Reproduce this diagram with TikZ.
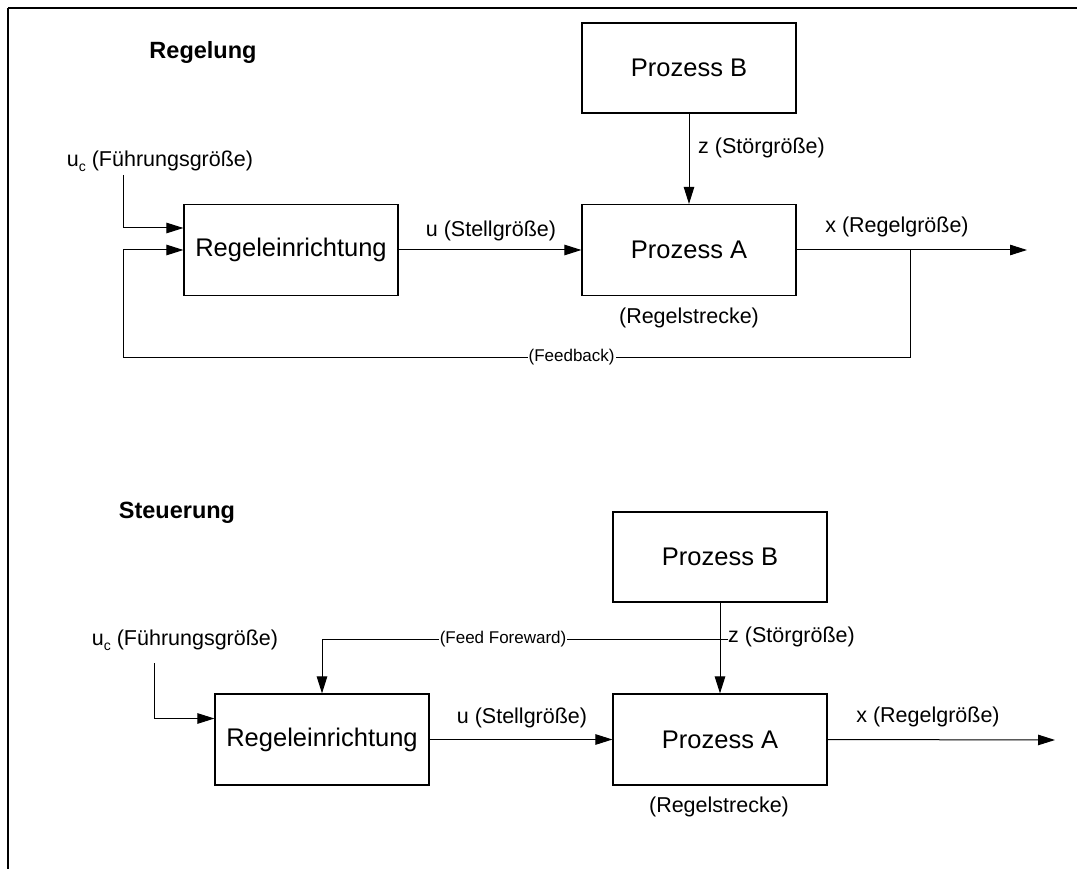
\documentclass[tikz,border=0pt]{standalone}
\usepackage{fontspec}
\setmainfont{Liberation Sans}
\usetikzlibrary{arrows.meta}

\newcommand{\idx}[1]{\raisebox{-5pt}{\fontsize{14}{14}\selectfont #1}}

\tikzset{
  block/.style={draw, line width=1.2pt, minimum width=214pt, minimum height=91pt,
    inner sep=0pt, font={\fontsize{25.5}{30}\selectfont}},
  sig/.style={font={\fontsize{21.5}{25}\selectfont}, inner sep=0pt},
  tiny/.style={font={\fontsize{17}{20}\selectfont}, fill=white, inner sep=1pt},
  headline/.style={font={\fontsize{23.5}{28}\selectfont\bfseries}, inner sep=0pt},
  pfeil/.style={line width=1pt, -{Triangle[length=17pt,width=10.5pt]}},
  linie/.style={line width=1pt}
}

\begin{document}
\begin{tikzpicture}[x=1pt, y=-1pt]

\useasboundingbox (0,0) rectangle (1077,869);
\draw[line width=2.5pt] (8,8) -- (1077,8);
\draw[line width=1.5pt] (8,8) -- (8,869);

% Regelung
\node[headline] (titel1) at (203,52) {Regelung};

\node[block, minimum height=90pt] (procB1) at (689,68) {Prozess B};
\node[block] (procA1) at (689,250) {Prozess A};
\node[block] (regler1) at (291,250) {Regeleinrichtung};

\node[sig] (uc1) at (160,161) {u\idx{c} (Führungsgröße)};
\node[sig] (u1) at (491,231) {u (Stellgröße)};
\node[sig, anchor=west] (z1) at (698,148) {z (Störgröße)};
\node[sig] (x1) at (897,227) {x (Regelgröße)};
\node[sig] (strecke1) at (689,318) {(Regelstrecke)};

\coordinate (uc1in) at (123,175);
\coordinate (out1) at (1027,250);
\coordinate (br1) at (910,250);
\coordinate (fb1) at (910,357);
\coordinate (fb2) at (123,357);

\draw[pfeil] (procB1.south) -- (procA1.north);
\draw[pfeil] (regler1.east) -- (procA1.west);
\draw[pfeil] (procA1.east) -- (out1);
\draw[pfeil] (uc1in) |- ([yshift=22pt]regler1.west);
\draw[pfeil] (br1) -- (fb1) -- node[tiny, pos=0.43] {(Feedback)} (fb2) |- (regler1.west);

% Steuerung
\node[headline] (titel2) at (177,513) {Steuerung};

\node[block, minimum height=90pt] (procB2) at (720,557) {Prozess B};
\node[block] (procA2) at (720,739.5) {Prozess A};
\node[block] (regler2) at (322,739.5) {Regeleinrichtung};

\node[sig] (uc2) at (185,640) {u\idx{c} (Führungsgröße)};
\node[sig] (u2) at (522,718) {u (Stellgröße)};
\node[sig, anchor=west] (z2) at (728,637) {z (Störgröße)};
\node[sig] (x2) at (928,717) {x (Regelgröße)};
\node[sig] (strecke2) at (719,807) {(Regelstrecke)};

\coordinate (uc2in) at (154,663);
\coordinate (out2) at (1055,740);
\coordinate (ff1) at (322,639);

\draw[pfeil] (procB2.south) -- (procA2.north);
\draw[pfeil] (regler2.east) -- (procA2.west);
\draw[pfeil] (procA2.east) -- (out2);
\draw[pfeil] (uc2in) |- ([yshift=21pt]regler2.west);
\draw[pfeil] (z2.west |- ff1) -- node[tiny, pos=0.554] {(Feed Foreward)} (ff1) -- (regler2.north);

\end{tikzpicture}
\end{document}
